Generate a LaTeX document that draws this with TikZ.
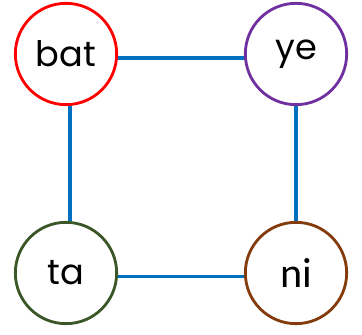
\documentclass[tikz,border=0pt]{standalone}
\usepackage{fontspec}
\setmainfont{Poppins}
\newfontfamily\calibrifont{Carlito}
\definecolor{syllred}{HTML}{FF0000}
\definecolor{syllpurple}{HTML}{7030A0}
\definecolor{syllgreen}{HTML}{3B5727}
\definecolor{syllbrown}{HTML}{843C0C}
\definecolor{linkblue}{HTML}{0070C0}
\begin{document}
\begin{tikzpicture}[
  syll/.style={circle,draw,fill=white,line width=2.4pt,minimum size=3.04cm,inner sep=0pt,font=\fontsize{30}{36}\selectfont},
  link/.style={draw=linkblue,line width=2.8pt}
]

%SPACING
\useasboundingbox (0,0) rectangle (10.86,10.02);
%SPACING

\node[syll,draw=syllred](bat) at (1.98,8.40) {bat};
\node[syll,draw=syllpurple](ye) at (8.88,8.40) {ye};
\node[syll,draw=syllgreen](ta) at (1.98,1.83) {ta};
\node[syll,draw=syllbrown,font=\calibrifont\fontsize{36}{40}\selectfont](ni) at (8.88,1.83) {ni};

\draw[link] ([yshift=-0.12cm]bat.east) -- ([yshift=-0.12cm]ye.west);
\draw[link] ([xshift=0.12cm]bat.south) -- ([xshift=0.12cm]ta.north);

\draw[link] (ye.south) -- (ni.north);
\draw[link] ([yshift=-0.10cm]ta.east) -- ([yshift=-0.10cm]ni.west);

\end{tikzpicture}
\end{document}
